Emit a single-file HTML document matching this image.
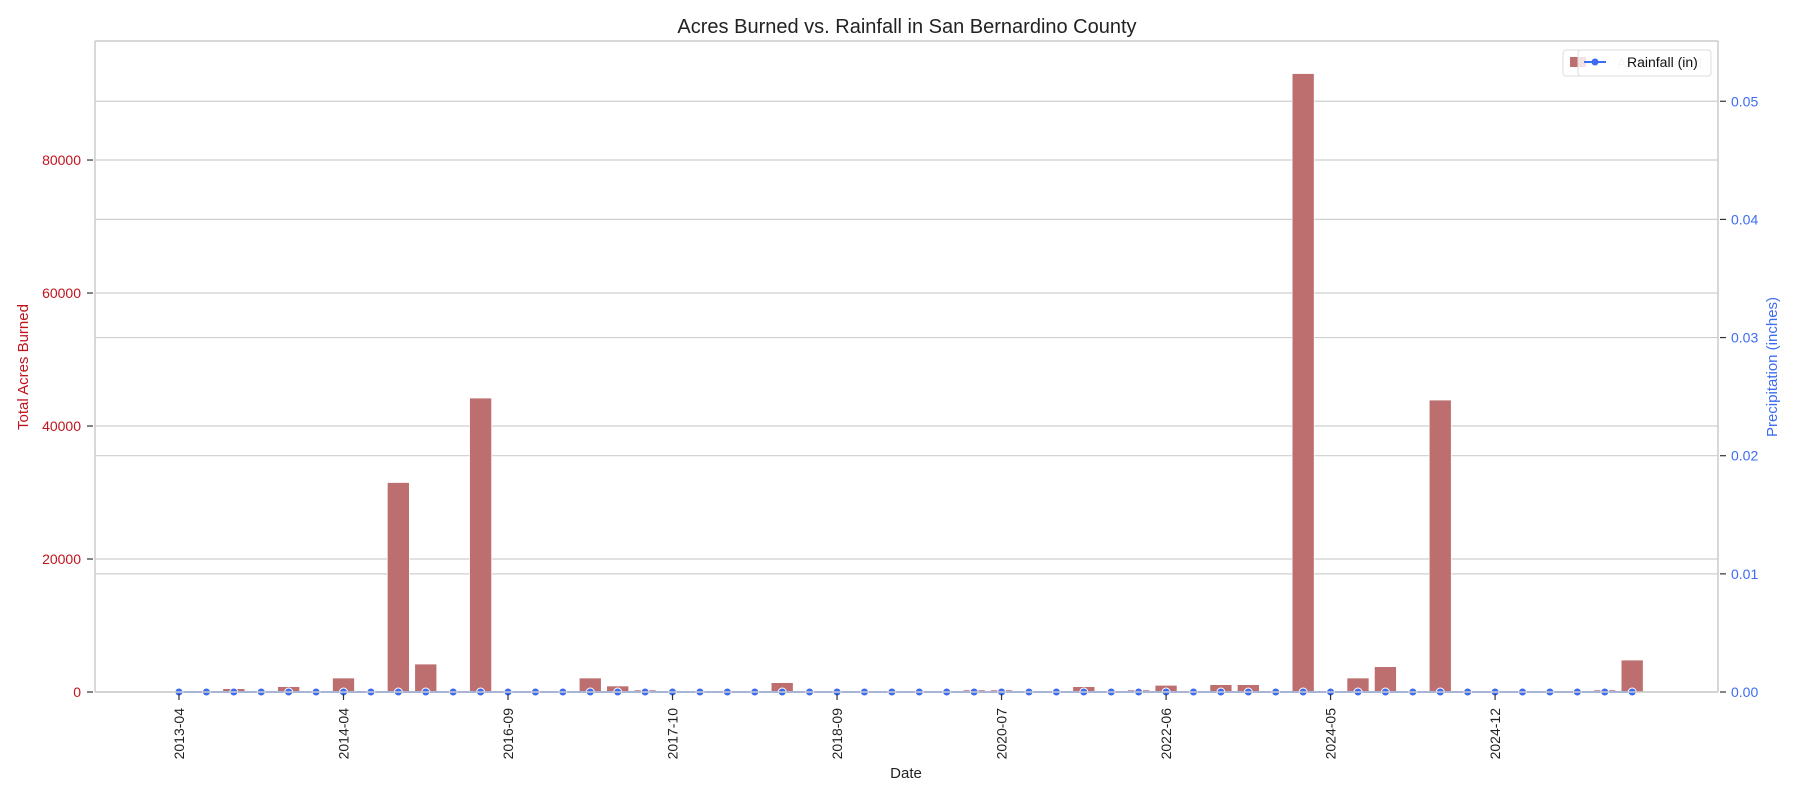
<!DOCTYPE html>
<html><head><meta charset="utf-8"><style>
html,body{margin:0;padding:0;background:#fff;}
svg{display:block;font-family:"Liberation Sans",Arial,sans-serif;}
</style></head><body>
<svg id="chart" width="1800" height="800" xmlns="http://www.w3.org/2000/svg">
<rect x="0" y="0" width="1800" height="800" fill="#fff"/>
<text x="907" y="33" font-size="20" text-anchor="middle" fill="#222">Acres Burned vs. Rainfall in San Bernardino County</text>
<g id="grid"></g>
<g id="bars"></g>
<g id="line"></g>
<g id="axes"></g>
<text transform="translate(28,367) rotate(-90)" font-size="15" text-anchor="middle" fill="#c0141e">Total Acres Burned</text>
<text transform="translate(1777,367) rotate(-90)" font-size="15" text-anchor="middle" fill="#3d6cf0">Precipitation (inches)</text>
<text x="906" y="778" font-size="15" text-anchor="middle" fill="#222">Date</text>
<g>
<rect x="1563" y="50" width="148" height="26" rx="3" fill="#fff" stroke="#ddd"/>
<rect x="1570" y="57" width="16" height="10" fill="#bd6e6e"/>
<text x="1617" y="68" font-size="14" fill="#ccc">Acres Burned</text>
<rect x="1578" y="50" width="133" height="26" rx="3" fill="rgba(255,255,255,0.8)" stroke="#ddd"/>
<line x1="1584" y1="62" x2="1606" y2="62" stroke="#3d6cf0" stroke-width="2"/>
<circle cx="1595" cy="62" r="3.5" fill="#3d6cf0"/>
<text x="1627" y="67" font-size="14" fill="#111">Rainfall (in)</text>
</g>
</svg>
<script>
const acres = [0,0,500,0,800,150,2100,0,31500,4200,0,44200,0,0,0,2100,900,300,0,0,0,0,1400,0,0,0,0,0,0,300,300,0,0,800,0,300,1000,0,1100,1100,0,93000,0,2100,3800,0,43900,0,0,0,0,0,300,4800];
const rainfall = new Array(54).fill(0);
const tickLabels = ["2013-04","2014-04","2016-09","2017-10","2018-09","2020-07","2022-06","2024-05","2024-12"];
const leftTicks = [0,20000,40000,60000,80000];
const rightTicks = [0,0.01,0.02,0.03,0.04,0.05];

const L=95,R=1718,T=41,B=692;
const xmin=-3.063,xmax=56.13;
const yMaxL=97900, yMaxR=0.0551;
const NS="http://www.w3.org/2000/svg";
function X(i){return L+(i-xmin)/(xmax-xmin)*(R-L);}
function YL(v){return B-v/yMaxL*(B-T);}
function YR(v){return B-v/yMaxR*(B-T);}
function mk(tag,attrs,parent){const e=document.createElementNS(NS,tag);for(const k in attrs)e.setAttribute(k,attrs[k]);document.getElementById(parent).appendChild(e);return e;}
const step=X(1)-X(0);
leftTicks.forEach(v=>{const e=mk('line',{x1:L,x2:R,y1:YL(v),y2:YL(v),stroke:'#cfcfcf','stroke-width':1.2},'grid');

});
rightTicks.forEach(v=>{const e=mk('line',{x1:L,x2:R,y1:YR(v),y2:YR(v),stroke:'#cfcfcf','stroke-width':1.2},'grid');

});
acres.forEach((v,i)=>{if(v<=0)return;const y=YL(v);const e=mk('rect',{x:X(i)-0.4*step,y:y,width:0.8*step,height:B-y,fill:'#bd6e6e',stroke:'#fff','stroke-width':0.6},'bars');

});
let d='';rainfall.forEach((v,i)=>{d+=(i?'L':'M')+X(i)+' '+YR(v)+' ';});
const pl=mk('path',{d:d,fill:'none',stroke:'#3d6cf0','stroke-width':2},'line');


rainfall.forEach((v,i)=>{const c=mk('circle',{cx:X(i),cy:YR(v),r:4,fill:'#3d6cf0',stroke:'#fff','stroke-width':1},'line');

});
[[L,T,R,T],[L,T,L,B],[R,T,R,B],[L,B,R,B]].forEach(s=>{const e=mk('line',{x1:s[0],y1:s[1],x2:s[2],y2:s[3],stroke:'#cccccc','stroke-width':1.5},'axes');

});
leftTicks.forEach(v=>{const y=YL(v);
const t=mk('line',{x1:L-8,x2:L-2,y1:y,y2:y,stroke:'#333','stroke-width':1.2},'axes');


const e=mk('text',{x:L-14,y:y+5,'font-size':14,'text-anchor':'end',fill:'#c0141e'},'axes');e.textContent=String(v);

});
rightTicks.forEach(v=>{const y=YR(v);
const t=mk('line',{x1:R+2,x2:R+8,y1:y,y2:y,stroke:'#333','stroke-width':1.2},'axes');


const e=mk('text',{x:R+13,y:y+5,'font-size':14,'text-anchor':'start',fill:'#3d6cf0'},'axes');e.textContent=v.toFixed(2);

});
tickLabels.forEach((lab,k)=>{const x=X(k*6);
const t=mk('line',{x1:x,x2:x,y1:B+2,y2:B+8,stroke:'#333','stroke-width':1.2},'axes');


const e=mk('text',{transform:'translate('+(x+5)+','+(B+16)+') rotate(-90)','font-size':14,'text-anchor':'end',fill:'#222'},'axes');e.textContent=lab;

});
</script>
</body></html>
